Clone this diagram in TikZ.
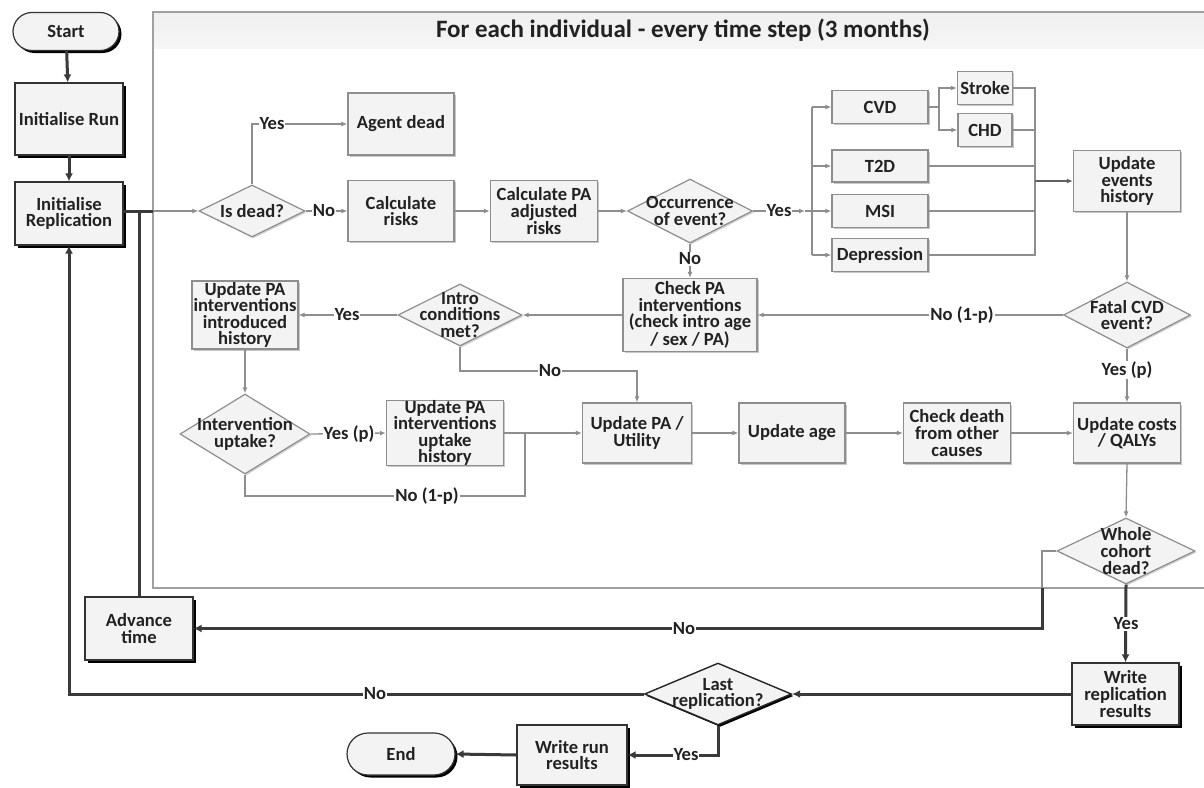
\documentclass[tikz,border=0pt]{standalone}
\usepackage{fontspec}
\setmainfont{Carlito}
\usetikzlibrary{shapes.geometric,shapes.misc,shadows,arrows.meta}
\definecolor{boxfill}{HTML}{F3F3F3}
\definecolor{boxline}{HTML}{8E8E8E}
\definecolor{txt}{HTML}{222222}
\definecolor{flow}{HTML}{3A3A3A}
\definecolor{titlefill}{HTML}{EFEFEF}
\definecolor{framecol}{HTML}{A0A0A0}
\tikzset{
  f/.style={font=\bfseries\fontsize{18.6}{16.6}\selectfont, text=txt},
  ibox/.style={f, rectangle, draw=boxline, fill=boxfill, line width=1.2pt, inner sep=0pt, align=center,
    drop shadow={shadow xshift=1.5pt, shadow yshift=-1.5pt, fill=black, opacity=0.22}},
  obox/.style={f, rectangle, draw=black!80, fill=boxfill, line width=1.2pt, inner sep=0pt, align=center,
    drop shadow={shadow xshift=2.5pt, shadow yshift=-2.5pt, fill=black, opacity=1}},
  opill/.style={obox, rounded rectangle},
  idia/.style={diamond, draw=boxline, fill=boxfill, line width=1.2pt, inner sep=0pt,
    drop shadow={shadow xshift=1.5pt, shadow yshift=-1.5pt, fill=black, opacity=0.18}},
  odia/.style={diamond, draw=black!85, fill=boxfill, line width=1.4pt, inner sep=0pt,
    drop shadow={shadow xshift=2pt, shadow yshift=-2pt, fill=black, opacity=1}},
  dtext/.style={f, align=center, inner sep=0pt},
  lbl/.style={f, fill=white, inner sep=1pt},
  iline/.style={draw=boxline, line width=1.3pt},
  iarr/.style={iline, -{Latex[length=6pt,width=5pt]}},
  oline/.style={draw=flow, line width=3pt},
  oarr/.style={oline, -{Latex[length=8pt,width=8pt]}}
}
\begin{document}
\begin{tikzpicture}[x=1pt,y=-1pt]
\useasboundingbox (0,0) rectangle (1204,787);
\fill[white] (0,0) rectangle (1204,787);
% frame
\shade[top color=titlefill, bottom color=titlefill!60] (153,12) rectangle (1204,48);
\draw[framecol, line width=1.2pt] (1210,12) -- (153,12) -- (153,588) -- (1210,588);
\node[font=\bfseries\fontsize{25}{28}\selectfont, text=txt] (title) at (683,30) {For each individual - every time step (3 months)};

% outer nodes
\node[opill, minimum width=106pt, minimum height=38pt] (start) at (66,31.5) {Start};
\node[obox, minimum width=108pt, minimum height=72pt] (initrun) at (69,119) {Initialise Run};
\node[obox, minimum width=108pt, minimum height=63pt] (initrep) at (69,213.5) {Initialise\\Replication};
\node[obox, minimum width=108pt, minimum height=63pt] (adv) at (139,628.5) {Advance\\time};
\node[obox, minimum width=107pt, minimum height=62pt] (writerep) at (1125.5,694) {Write\\replication\\results};
\node[odia, minimum width=147pt, minimum height=62pt] (lastrep) at (718,694) {};
\node[dtext] (lastrep-t) at (lastrep) {Last\\replication?};
\node[obox, minimum width=110pt, minimum height=60pt] (writerun) at (572,755) {Write run\\results};
\node[opill, minimum width=108pt, minimum height=42pt] (end) at (401,754) {End};

% inner nodes
\node[idia, minimum width=106pt, minimum height=52pt] (isdead) at (252,211) {};
\node[dtext] (isdead-t) at (isdead) {Is dead?};
\node[ibox, minimum width=106pt, minimum height=62pt] (agentdead) at (401,124) {Agent dead};
\node[ibox, minimum width=106pt, minimum height=61pt] (calcrisk) at (401,211) {Calculate\\risks};
\node[ibox, minimum width=107pt, minimum height=61pt] (calcpa) at (544,211) {Calculate PA\\adjusted\\risks};
\node[idia, minimum width=125pt, minimum height=64pt] (occ) at (690,211) {};
\node[dtext] (occ-t) at (occ) {Occurrence\\of event?};
\node[ibox, minimum width=96pt, minimum height=33pt] (cvd) at (880,107) {CVD};
\node[ibox, minimum width=96pt, minimum height=32pt] (t2d) at (880,166) {T2D};
\node[ibox, minimum width=96pt, minimum height=33pt] (msi) at (880,211) {MSI};
\node[ibox, minimum width=96pt, minimum height=33pt] (dep) at (880,255) {Depression};
\node[ibox, minimum width=55pt, minimum height=33pt] (stroke) at (985,88) {Stroke};
\node[ibox, minimum width=54pt, minimum height=33pt] (chd) at (985,130) {CHD};
\node[ibox, minimum width=107pt, minimum height=61pt] (upev) at (1127,181) {Update\\events\\history};
\node[idia, minimum width=127pt, minimum height=66pt] (fatal) at (1127,315) {};
\node[dtext] (fatal-t) at (fatal) {Fatal CVD\\event?};
\node[ibox, minimum width=134pt, minimum height=73pt] (checkpa) at (690,315) {Check PA\\interventions\\(check intro age\\/ sex / PA)};
\node[idia, minimum width=124pt, minimum height=62pt] (intro) at (460,315) {};
\node[dtext] (intro-t) at (intro) {Intro\\conditions\\met?};
\node[ibox, minimum width=106pt, minimum height=68pt] (upintro) at (245,315) {Update PA\\interventions\\introduced\\history};
\node[idia, minimum width=130pt, minimum height=80pt] (uptake) at (245,434) {};
\node[dtext] (uptake-t) at (uptake) {Intervention\\uptake?};
\node[ibox, minimum width=117pt, minimum height=61pt] (upupt) at (445,433) {Update PA\\interventions\\uptake\\history};
\node[ibox, minimum width=109pt, minimum height=60pt] (uputil) at (637,433) {Update PA /\\Utility};
\node[ibox, minimum width=106pt, minimum height=60pt] (upage) at (792,433) {Update age};
\node[ibox, minimum width=107pt, minimum height=60pt] (chkdeath) at (957,433) {Check death\\from other\\causes};
\node[ibox, minimum width=107pt, minimum height=60pt] (upcost) at (1127,433) {Update costs\\/ QALYs};
\node[idia, minimum width=138pt, minimum height=66pt] (cohort) at (1126,551) {};
\node[dtext] (cohort-t) at (cohort) {Whole\\cohort\\dead?};

% coordinates
\coordinate (j1) at (153,211);
\coordinate (busin) at (805,211);
\coordinate (bus) at (812,211);
\coordinate (fork) at (939,107);
\coordinate (merge) at (1035,181);
\coordinate (j2) at (525,433);
\coordinate (nop) at (525,496);
\coordinate (noc) at (637,371);
\coordinate (c1) at (1042,551);
\coordinate (c2) at (1042,588);

% outer flow
\draw[oarr] (start) -- (initrun);
\draw[oarr] (initrun) -- (initrep);
\draw[oline] (initrep.east |- j1) -- (j1);
\draw[oline] (adv.north) -- (adv.north |- j1);
\draw[iarr] (j1) -- (isdead.west);
\draw[iline] (cohort.west) -- (c1) -- (c2);
\draw[oarr] (c2) |- (adv.east);
\node[lbl] (l-no1) at (684,628.5) {No};
\draw[oarr] (cohort.south) -- (writerep.north);
\node[lbl] (l-yes1) at (1126,624) {Yes};
\draw[oarr] (writerep.west) -- (lastrep.east);
\draw[oarr] (lastrep.west) -| (initrep.south);
\node[lbl] (l-no2) at (375,694) {No};
\draw[oarr] (lastrep.south) |- (writerun.east);
\node[lbl] (l-yes2) at (686,755) {Yes};
\draw[oarr] (writerun.west) -- (end.east);

% inner flow
\draw[iarr] (isdead.north) |- (agentdead.west);
\node[lbl] (l-yes3) at (272,124) {Yes};
\draw[iarr] (isdead.east) -- (calcrisk.west);
\node[lbl] (l-no3) at (324,211) {No};
\draw[iarr] (calcrisk.east) -- (calcpa.west);
\draw[iarr] (calcpa.east) -- (occ.west);
\draw[iarr] (occ.east) -- (busin);
\draw[iline] (busin) -- (bus);
\node[lbl] (l-yes4) at (779,211) {Yes};
\draw[iline] (cvd.west -| bus) -- (dep.west -| bus);
\draw[iarr] (cvd.west -| bus) -- (cvd.west);
\draw[iarr] (t2d.west -| bus) -- (t2d.west);
\draw[iarr] (msi.west -| bus) -- (msi.west);
\draw[iarr] (dep.west -| bus) -- (dep.west);
\draw[iline] (cvd.east) -- (fork);
\draw[iarr] (fork) |- (stroke.west);
\draw[iarr] (fork) |- (chd.west);
\draw[iline] (stroke.east) -| (merge);
\draw[iline] (chd.east) -| (merge);
\draw[iline] (t2d.east) -| (merge);
\draw[iline] (msi.east) -| (merge);
\draw[iline] (dep.east) -| (merge);
\draw[iarr, draw=flow!80] (merge) -- (upev.west);
\draw[iarr] (upev.south) -- (fatal.north);
\draw[iarr] (fatal.west) -- (checkpa.east);
\node[lbl] (l-no4) at (962,315) {No (1-p)};
\draw[iarr] (occ.south) -- (checkpa.north);
\node[lbl] (l-no5) at (690,259) {No};
\draw[iarr] (checkpa.west) -- (intro.east);
\draw[iarr] (intro.west) -- (upintro.east);
\node[lbl] (l-yes5) at (347,315) {Yes};
\draw[iarr] (upintro.south) -- (uptake.north);
\draw[iarr] (uptake.east) -- (upupt.west);
\node[lbl] (l-yes6) at (349,434) {Yes (p)};
\draw[iline] (uptake.south) |- (nop) -- (j2);
\node[lbl] (l-no6) at (427,496) {No (1-p)};
\draw[iarr] (upupt.east) -- (uputil.west);
\draw[iarr] (intro.south) |- (noc) -- (uputil.north);
\node[lbl] (l-no7) at (550,371) {No};
\draw[iarr] (uputil.east) -- (upage.west);
\draw[iarr] (upage.east) -- (chkdeath.west);
\draw[iarr] (chkdeath.east) -- (upcost.west);
\draw[iarr] (fatal.south) -- (upcost.north);
\node[lbl] (l-yes7) at (1127,370) {Yes (p)};
\draw[iarr] (upcost.south) -- (cohort.north);
\end{tikzpicture}
\end{document}
